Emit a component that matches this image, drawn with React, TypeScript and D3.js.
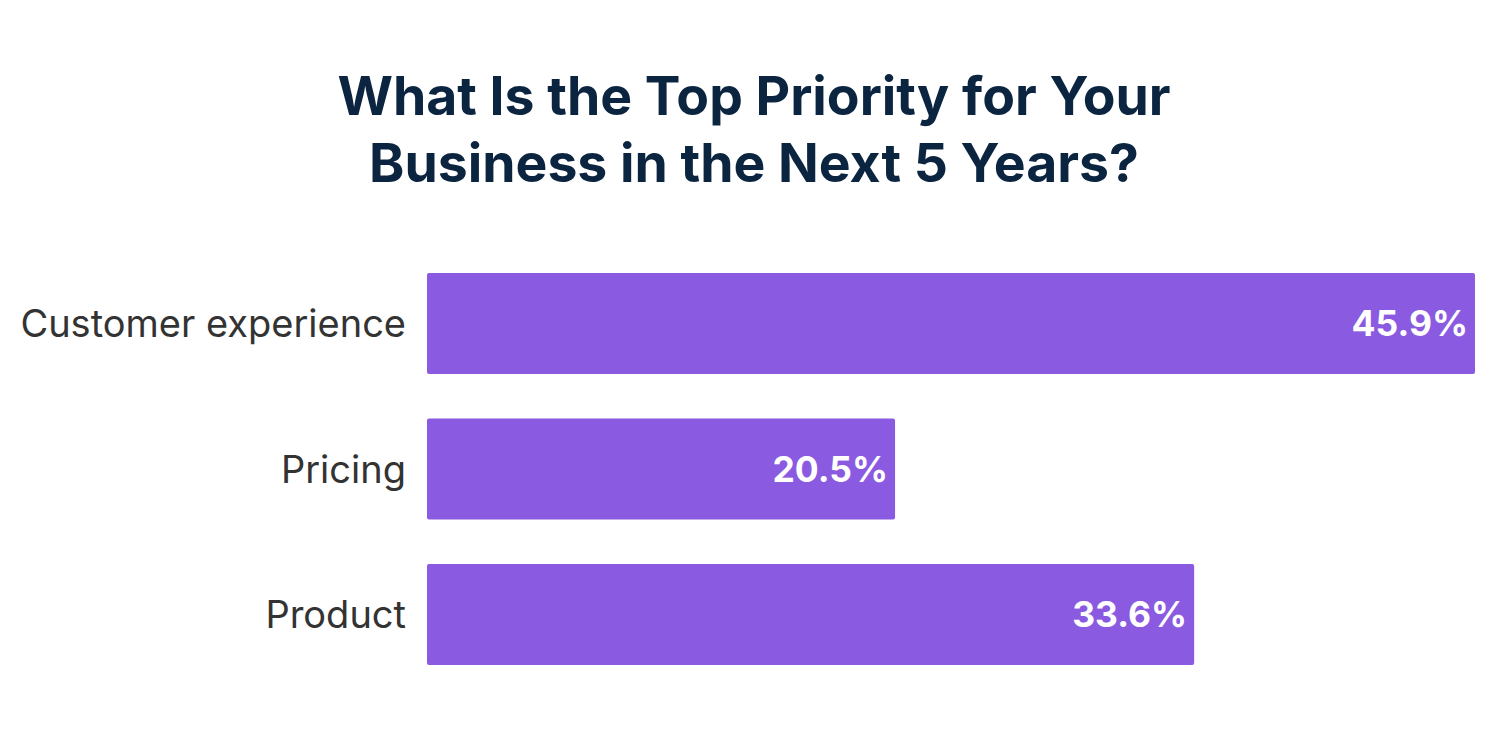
import React from "react";
import * as d3 from "d3";

const categories = ["Customer experience", "Pricing", "Product"];
const values = [45.9, 20.5, 33.6];
const titleLines = ["What Is the Top Priority for Your", "Business in the Next 5 Years?"];

const W = 1509;
const H = 746;

export default function App() {
  const x = d3.scaleLinear().domain([0, 45.9]).range([427, 1475]);
  const y = d3.scaleBand().domain(categories).range([273, 665]).paddingInner(0.305).paddingOuter(0);
  return (
    <div style={{ position: "absolute", left: 0, top: 0, width: W, height: H, background: "#fff" }}>
      <svg width={W} height={H} style={{ display: "block", fontFamily: "Inter, 'Noto Sans', sans-serif" }}>
        {titleLines.map((t, i) => (
          <text key={i} x={754} y={115 + i * 67} textAnchor="middle" fontSize={53.5} fontWeight={700} fill="#0b2540">
            {t}
          </text>
        ))}
        {categories.map((c, i) => {
          const y0 = y(c)!;
          const bw = y.bandwidth();
          return (
            <g key={c}>
              <rect x={x(0)} y={y0} width={x(values[i]) - x(0)} height={bw} rx={2} fill="#8a5ae0" />
              <text x={406} y={y0 + bw / 2} dy="0.36em" textAnchor="end" fontSize={38} fill="#333333">
                {c}
              </text>
              <text x={x(values[i]) - 7} y={y0 + bw / 2} dy="0.36em" textAnchor="end" fontSize={35.5} fontWeight={700} fill="#ffffff">
                {values[i].toFixed(1)}%
              </text>
            </g>
          );
        })}
      </svg>
    </div>
  );
}
